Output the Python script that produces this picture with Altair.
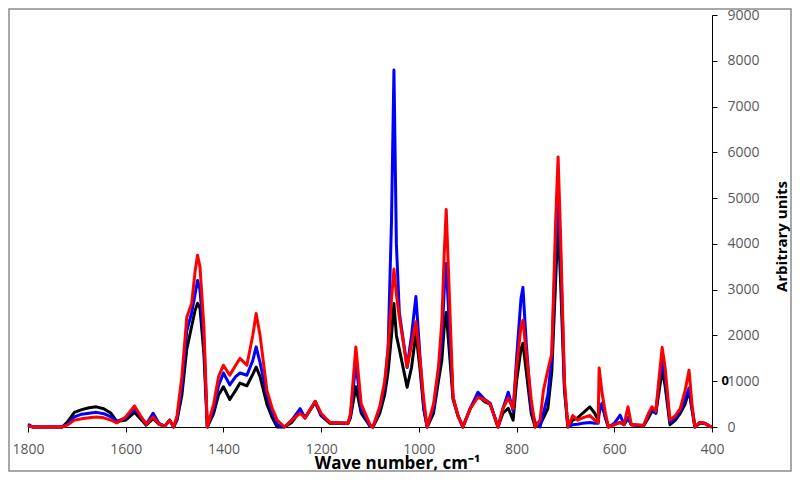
import altair as alt
import pandas as pd

wavenumber = [1800, 1790, 1730, 1720, 1705, 1690, 1675, 1660, 1645, 1630, 1618, 1600, 1582, 1570, 1558,
              1544, 1532, 1520, 1510, 1502, 1495, 1485, 1475, 1465, 1458, 1453, 1448, 1440, 1433, 1420,
              1410, 1400, 1387, 1375, 1366, 1352, 1340, 1333, 1325, 1311, 1300, 1290, 1275, 1260, 1243,
              1233, 1212, 1200, 1182, 1145, 1140, 1129, 1118, 1100, 1094, 1080, 1070, 1063, 1056, 1051,
              1046, 1040, 1024, 1015, 1006, 998, 990, 983, 970, 960, 953, 948, 944, 938, 930,
              920, 910, 895, 879, 865, 854, 838, 828, 817, 807, 800, 791, 787, 780, 770,
              762, 752, 745, 736, 728, 720, 715, 710, 702, 695, 685, 675, 665, 650, 640,
              633, 631, 625, 618, 612, 600, 588, 580, 572, 565, 540, 530, 523, 515, 508,
              502, 496, 486, 475, 465, 455, 447, 441, 435, 425, 415, 405, 400]
black = [30, 0, 0, 100, 320, 380, 420, 440, 400, 300, 120, 150, 320, 180, 40,
         180, 60, 20, 150, 0, 150, 700, 1700, 2200, 2550, 2700, 2600, 1600, 0, 300,
         700, 880, 600, 800, 960, 900, 1150, 1310, 1100, 500, 200, 0, 0, 100, 350,
         200, 540, 250, 80, 80, 200, 880, 300, 20, 0, 300, 700, 1200, 2000, 2700,
         2000, 1700, 870, 1300, 2050, 1300, 400, 0, 300, 1000, 1450, 2200, 2500, 1700, 600,
         250, 0, 400, 700, 550, 500, 0, 300, 410, 150, 1000, 1700, 1830, 1200, 300,
         0, 50, 200, 400, 1200, 3200, 4500, 3200, 800, 0, 150, 200, 300, 440, 300,
         150, 400, 500, 200, 0, 50, 100, 50, 200, 50, 20, 200, 350, 300, 800,
         1240, 900, 50, 150, 300, 500, 800, 400, 0, 80, 80, 20, 0]
blue = [60, 0, 0, 60, 220, 280, 300, 320, 290, 220, 120, 200, 400, 230, 60,
        300, 80, 20, 150, 0, 180, 900, 2100, 2500, 2900, 3200, 3000, 1900, 0, 400,
        900, 1180, 920, 1100, 1180, 1130, 1450, 1750, 1400, 700, 300, 50, 0, 150, 400,
        200, 560, 250, 100, 80, 250, 1400, 400, 20, 0, 400, 900, 1700, 4500, 7800,
        4000, 2500, 1300, 2000, 2850, 1600, 400, 0, 400, 1200, 1900, 3000, 3570, 2300, 650,
        250, 0, 400, 760, 600, 520, 0, 400, 760, 350, 1500, 2800, 3050, 1800, 400,
        100, 0, 300, 700, 1500, 4000, 5300, 3800, 900, 0, 50, 60, 80, 100, 80,
        80, 300, 520, 200, 0, 80, 260, 50, 200, 50, 40, 250, 420, 300, 1000,
        1460, 1100, 100, 200, 350, 600, 850, 400, 0, 100, 80, 20, 0]
red = [20, 0, 0, 40, 150, 180, 200, 220, 200, 150, 90, 220, 460, 250, 60,
       220, 60, 20, 150, 0, 250, 1100, 2400, 2700, 3400, 3750, 3500, 2200, 0, 500,
       1100, 1350, 1130, 1350, 1500, 1350, 2000, 2480, 2000, 800, 400, 150, 0, 150, 300,
       200, 560, 300, 100, 80, 300, 1750, 500, 50, 0, 450, 1000, 1700, 2800, 3450,
       2900, 2400, 1310, 1800, 2300, 1500, 600, 0, 500, 1300, 2300, 3800, 4750, 3000, 650,
       250, 0, 400, 650, 590, 500, 0, 400, 630, 400, 1300, 2200, 2330, 1600, 600,
       0, 150, 800, 1240, 1600, 4500, 5900, 4200, 1000, 0, 250, 150, 200, 250, 150,
       100, 1290, 740, 300, 0, 50, 100, 50, 440, 50, 30, 300, 440, 350, 1100,
       1740, 1300, 150, 250, 400, 800, 1240, 500, 0, 100, 80, 20, 0]

series_names = ["Black", "Blue", "Red"]
series_colors = ["#000000", "#0000FF", "#FF0000"]
x_ticks = [1800, 1600, 1400, 1200, 1000, 800, 600, 400]
y_ticks = [0, 1000, 2000, 3000, 4000, 5000, 6000, 7000, 8000, 9000]

df = pd.DataFrame({"wn": wavenumber, "Black": black, "Blue": blue, "Red": red})
long = df.melt("wn", var_name="series", value_name="val")

FONT = "Open Sans"

x_enc = alt.X("wn:Q",
              scale=alt.Scale(domain=[400, 1800], reverse=True, nice=False, zero=False),
              axis=alt.Axis(values=x_ticks, format="d", title="Wave number, cm⁻¹",
                            titleFont=FONT, titleFontSize=17, titleFontWeight="bold",
                            titleColor="#000000", titleX=369, titleY=41,
                            titleBaseline="alphabetic", titleAlign="center",
                            labelFont=FONT, labelFontSize=14, labelColor="#595959",
                            labelFlush=False, labelPadding=10, tickSize=5, tickColor="#000000",
                            domainColor="#000000", grid=False))
y_enc = alt.Y("val:Q",
              scale=alt.Scale(domain=[0, 9000], nice=False),
              axis=alt.Axis(orient="right", values=y_ticks, format="d", title="Arbitrary units",
                            titleFont=FONT, titleFontSize=15, titleFontWeight="bold",
                            titleColor="#000000", titleAngle=270, titleX=69, titleY=221,
                            titleBaseline="middle", titleAlign="center",
                            labelFont=FONT, labelFontSize=14, labelColor="#595959",
                            labelFlush=False, labelPadding=10, tickSize=5, tickColor="#000000",
                            domainColor="#000000", grid=False))

layers = []
for name, col in zip(series_names, series_colors):
    layers.append(
        alt.Chart(long).transform_filter(alt.datum.series == name)
        .mark_line(color=col, strokeWidth=3, strokeJoin="round")
        .encode(x=x_enc, y=y_enc)
    )

stray = alt.Chart(pd.DataFrame({"wn": [373], "val": [1000], "t": ["0"]})).mark_text(
    font=FONT, fontSize=13, color="#000000", fontWeight="bold", clip=False
).encode(x=x_enc, y=y_enc, text="t:N")

border = alt.Chart(alt.Data(values=[{}])).mark_rect(
    fillOpacity=0, stroke="#8c8c8c", strokeWidth=1.5, clip=False
).encode(x=alt.value(-19), x2=alt.value(763), y=alt.value(-6), y2=alt.value(456))

chart = alt.layer(*layers, stray, border).properties(
    width=684, height=412,
    autosize=alt.AutoSizeParams(type="none"),
    padding={"left": 20, "top": 7, "right": 80, "bottom": 45},
).configure_view(stroke="transparent")

chart.save("out.html", embed_options={"renderer": "svg", "actions": False})
